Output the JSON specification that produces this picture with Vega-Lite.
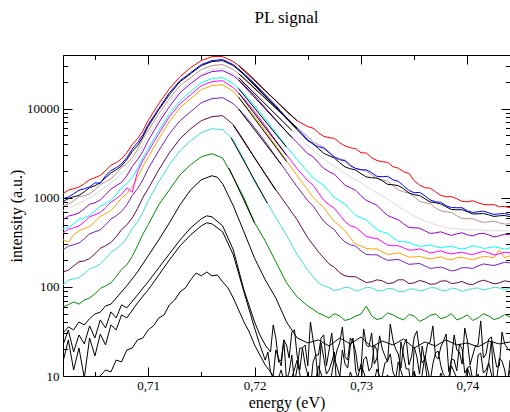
{
"$schema":"https://vega.github.io/schema/vega-lite/v6.json",
"width":447,"height":321,
"autosize":{"type":"none"},
"padding":{"left":63,"top":55,"right":0,"bottom":36},
"background":"white",
"title":{"text":"PL signal","font":"Liberation Serif","fontSize":17,"fontWeight":"normal","color":"black","offset":28,"anchor":"middle"},
"config":{"view":{"stroke":null},"axis":{"grid":false,"domainColor":"black","tickColor":"black","labelColor":"black","labelFont":"Liberation Serif","labelFontSize":13,"titleFont":"Liberation Serif","titleFontSize":16,"titleFontWeight":"normal","titleColor":"black","labelFlush":false,"labelOverlap":false,"labelBound":false,"domainWidth":1,"tickWidth":1}},
"datasets":{
"pl":[
{"c":"k4","e":0.702,"i":6.1},{"c":"k4","e":0.7025,"i":7.9},{"c":"k4","e":0.703,"i":5.6},{"c":"k4","e":0.7035,"i":9.0},{"c":"k4","e":0.704,"i":6.6},{"c":"k4","e":0.7045,"i":8.3},{"c":"k4","e":0.705,"i":7.3},{"c":"k4","e":0.7055,"i":10},{"c":"k4","e":0.706,"i":11.7},{"c":"k4","e":0.7065,"i":11.1},{"c":"k4","e":0.707,"i":15.1},{"c":"k4","e":0.7075,"i":14.4},{"c":"k4","e":0.708,"i":19.6},{"c":"k4","e":0.7085,"i":20.6},{"c":"k4","e":0.709,"i":25.4},{"c":"k4","e":0.7095,"i":26.7},{"c":"k4","e":0.71,"i":32.9},{"c":"k4","e":0.7105,"i":36.5},{"c":"k4","e":0.711,"i":44.8},{"c":"k4","e":0.7115,"i":48.5},{"c":"k4","e":0.712,"i":62.9},{"c":"k4","e":0.7125,"i":71.4},{"c":"k4","e":0.713,"i":87.9},{"c":"k4","e":0.7135,"i":97.5},{"c":"k4","e":0.714,"i":120},{"c":"k4","e":0.7145,"i":143},{"c":"k4","e":0.715,"i":133},{"c":"k4","e":0.7155,"i":147},{"c":"k4","e":0.716,"i":133},{"c":"k4","e":0.7165,"i":136},{"c":"k4","e":0.717,"i":114},{"c":"k4","e":0.7175,"i":97.5},{"c":"k4","e":0.718,"i":75},{"c":"k4","e":0.7185,"i":55.2},{"c":"k4","e":0.719,"i":40.4},{"c":"k4","e":0.7195,"i":31.2},{"c":"k4","e":0.72,"i":22.3},{"c":"k4","e":0.7205,"i":17.2},{"c":"k4","e":0.721,"i":13.3},{"c":"k4","e":0.7215,"i":11.1},
{"c":"k4","e":0.722,"i":7.9},{"c":"k4","e":0.7225,"i":11.7},{"c":"k4","e":0.723,"i":6.6},{"c":"k4","e":0.7235,"i":9.5},{"c":"k4","e":0.724,"i":15.1},{"c":"k4","e":0.7245,"i":7.3},{"c":"k4","e":0.725,"i":10.5},{"c":"k4","e":0.7255,"i":6.1},{"c":"k4","e":0.726,"i":13.0},{"c":"k4","e":0.7265,"i":8.6},{"c":"k4","e":0.727,"i":7.0},{"c":"k4","e":0.7275,"i":15.9},{"c":"k4","e":0.728,"i":10},{"c":"k4","e":0.7285,"i":5.6},{"c":"k4","e":0.729,"i":11.1},{"c":"k4","e":0.7295,"i":7.7},{"c":"k4","e":0.73,"i":13.6},{"c":"k4","e":0.7305,"i":9.0},{"c":"k4","e":0.731,"i":6.3},{"c":"k4","e":0.7315,"i":12.0},{"c":"k4","e":0.732,"i":8.1},{"c":"k4","e":0.7325,"i":10.3},{"c":"k4","e":0.733,"i":5.8},{"c":"k4","e":0.7335,"i":14.4},{"c":"k4","e":0.734,"i":9.2},{"c":"k4","e":0.7345,"i":7.1},{"c":"k4","e":0.735,"i":11.4},{"c":"k4","e":0.7355,"i":6.6},{"c":"k4","e":0.736,"i":16.8},{"c":"k4","e":0.7365,"i":8.8},{"c":"k4","e":0.737,"i":6.4},{"c":"k4","e":0.7375,"i":10.8},{"c":"k4","e":0.738,"i":7.5},{"c":"k4","e":0.7385,"i":13.0},{"c":"k4","e":0.739,"i":9.5},{"c":"k4","e":0.7395,"i":6.0},{"c":"k4","e":0.74,"i":12.3},{"c":"k4","e":0.7405,"i":8.3},{"c":"k4","e":0.741,"i":10.5},{"c":"k4","e":0.7415,"i":6.8},{"c":"k4","e":0.742,"i":14.0},{"c":"k4","e":0.7425,"i":7.9},{"c":"k4","e":0.743,"i":9.7},{"c":"k4","e":0.7435,"i":6.3},{"c":"k4","e":0.744,"i":11.7},
{"c":"k3","e":0.702,"i":14.4},{"c":"k3","e":0.7025,"i":25.4},{"c":"k3","e":0.703,"i":11.7},{"c":"k3","e":0.7035,"i":20.6},{"c":"k3","e":0.704,"i":9.5},{"c":"k3","e":0.7045,"i":26.7},{"c":"k3","e":0.705,"i":16.8},{"c":"k3","e":0.7055,"i":29.6},{"c":"k3","e":0.706,"i":22.3},{"c":"k3","e":0.7065,"i":37.4},{"c":"k3","e":0.707,"i":32.9},{"c":"k3","e":0.7075,"i":48.5},{"c":"k3","e":0.708,"i":44.8},{"c":"k3","e":0.709,"i":66.1},{"c":"k3","e":0.71,"i":92.5},{"c":"k3","e":0.711,"i":136},{"c":"k3","e":0.712,"i":201},{"c":"k3","e":0.713,"i":289},{"c":"k3","e":0.714,"i":384},{"c":"k3","e":0.715,"i":484},{"c":"k3","e":0.7155,"i":524},{"c":"k3","e":0.716,"i":510},{"c":"k3","e":0.717,"i":415},{"c":"k3","e":0.718,"i":229},{"c":"k3","e":0.719,"i":87.9},{"c":"k3","e":0.72,"i":34.6},{"c":"k3","e":0.7205,"i":22.3},
{"c":"k3","e":0.721,"i":15.1},{"c":"k3","e":0.7215,"i":11.1},{"c":"k3","e":0.722,"i":19.6},{"c":"k3","e":0.7225,"i":13.0},{"c":"k3","e":0.723,"i":9.0},{"c":"k3","e":0.7235,"i":17.2},{"c":"k3","e":0.724,"i":12.3},{"c":"k3","e":0.7245,"i":20.6},{"c":"k3","e":0.725,"i":10.3},{"c":"k3","e":0.7255,"i":14.4},{"c":"k3","e":0.726,"i":7.9},{"c":"k3","e":0.7265,"i":15.9},{"c":"k3","e":0.727,"i":11.7},{"c":"k3","e":0.7275,"i":18.6},{"c":"k3","e":0.728,"i":9.5},{"c":"k3","e":0.7285,"i":13.6},{"c":"k3","e":0.729,"i":21.7},{"c":"k3","e":0.7295,"i":11.4},{"c":"k3","e":0.73,"i":8.3},{"c":"k3","e":0.7305,"i":16.4},{"c":"k3","e":0.731,"i":12.6},{"c":"k3","e":0.7315,"i":19.6},{"c":"k3","e":0.732,"i":10},{"c":"k3","e":0.7325,"i":14.8},{"c":"k3","e":0.733,"i":11.1},{"c":"k3","e":0.7335,"i":7.0},{"c":"k3","e":0.734,"i":16.8},{"c":"k3","e":0.7345,"i":12.0},{"c":"k3","e":0.735,"i":21.2},{"c":"k3","e":0.7355,"i":10.5},{"c":"k3","e":0.736,"i":14.4},{"c":"k3","e":0.7365,"i":8.6},{"c":"k3","e":0.737,"i":18.1},{"c":"k3","e":0.7375,"i":13.0},{"c":"k3","e":0.738,"i":9.7},{"c":"k3","e":0.7385,"i":15.5},{"c":"k3","e":0.739,"i":11.4},{"c":"k3","e":0.7395,"i":20.1},{"c":"k3","e":0.74,"i":12.3},{"c":"k3","e":0.7405,"i":9.0},{"c":"k3","e":0.741,"i":17.2},{"c":"k3","e":0.7415,"i":10.8},{"c":"k3","e":0.742,"i":14.0},{"c":"k3","e":0.7425,"i":7.7},{"c":"k3","e":0.743,"i":15.9},{"c":"k3","e":0.7435,"i":11.7},{"c":"k3","e":0.744,"i":15.1},
{"c":"k2","e":0.702,"i":22.3},{"c":"k2","e":0.7025,"i":32.9},{"c":"k2","e":0.703,"i":18.6},{"c":"k2","e":0.7035,"i":28.9},{"c":"k2","e":0.704,"i":22.9},{"c":"k2","e":0.7045,"i":36.5},{"c":"k2","e":0.705,"i":26.7},{"c":"k2","e":0.7055,"i":42.6},{"c":"k2","e":0.706,"i":34.6},{"c":"k2","e":0.7065,"i":52.4},{"c":"k2","e":0.707,"i":44.8},{"c":"k2","e":0.7075,"i":62.9},{"c":"k2","e":0.708,"i":58.1},{"c":"k2","e":0.709,"i":81.3},{"c":"k2","e":0.71,"i":114},{"c":"k2","e":0.711,"i":164},{"c":"k2","e":0.712,"i":235},{"c":"k2","e":0.713,"i":337},{"c":"k2","e":0.714,"i":460},{"c":"k2","e":0.715,"i":580},{"c":"k2","e":0.7155,"i":627},{"c":"k2","e":0.716,"i":611},{"c":"k2","e":0.717,"i":484},{"c":"k2","e":0.718,"i":260},{"c":"k2","e":0.719,"i":92.5},{"c":"k2","e":0.72,"i":40.4},{"c":"k2","e":0.7205,"i":28.9},{"c":"k2","e":0.721,"i":22.3},
{"c":"k2","e":0.7215,"i":18.6},{"c":"k2","e":0.722,"i":26.7},{"c":"k2","e":0.7225,"i":15.1},{"c":"k2","e":0.723,"i":22.3},{"c":"k2","e":0.7235,"i":31.2},{"c":"k2","e":0.724,"i":16.8},{"c":"k2","e":0.7245,"i":20.6},{"c":"k2","e":0.725,"i":13.0},{"c":"k2","e":0.7255,"i":25.4},{"c":"k2","e":0.726,"i":17.2},{"c":"k2","e":0.7265,"i":28.9},{"c":"k2","e":0.727,"i":19.6},{"c":"k2","e":0.7275,"i":14.4},{"c":"k2","e":0.728,"i":23.5},{"c":"k2","e":0.7285,"i":16.4},{"c":"k2","e":0.729,"i":26.7},{"c":"k2","e":0.7295,"i":18.6},{"c":"k2","e":0.73,"i":12.3},{"c":"k2","e":0.7305,"i":22.3},{"c":"k2","e":0.731,"i":30.4},{"c":"k2","e":0.7315,"i":15.9},{"c":"k2","e":0.732,"i":20.1},{"c":"k2","e":0.7325,"i":14.4},{"c":"k2","e":0.733,"i":25.4},{"c":"k2","e":0.7335,"i":17.7},{"c":"k2","e":0.734,"i":21.7},{"c":"k2","e":0.7345,"i":13.3},{"c":"k2","e":0.735,"i":27.4},{"c":"k2","e":0.7355,"i":19.1},{"c":"k2","e":0.736,"i":15.5},{"c":"k2","e":0.7365,"i":24.1},{"c":"k2","e":0.737,"i":16.8},{"c":"k2","e":0.7375,"i":21.2},{"c":"k2","e":0.738,"i":29.6},{"c":"k2","e":0.7385,"i":15.1},{"c":"k2","e":0.739,"i":19.6},{"c":"k2","e":0.7395,"i":13.6},{"c":"k2","e":0.74,"i":24.7},{"c":"k2","e":0.7405,"i":17.2},{"c":"k2","e":0.741,"i":22.3},{"c":"k2","e":0.7415,"i":15.9},{"c":"k2","e":0.742,"i":26.0},{"c":"k2","e":0.7425,"i":18.1},{"c":"k2","e":0.743,"i":13.0},{"c":"k2","e":0.7435,"i":22.9},{"c":"k2","e":0.744,"i":19.1},
{"c":"k1","e":0.702,"i":30.4},{"c":"k1","e":0.7025,"i":35.5},{"c":"k1","e":0.703,"i":32.9},{"c":"k1","e":0.7035,"i":40.4},{"c":"k1","e":0.704,"i":37.4},{"c":"k1","e":0.7045,"i":44},{"c":"k1","e":0.705,"i":49.7},{"c":"k1","e":0.7055,"i":52},{"c":"k1","e":0.706,"i":61.2},{"c":"k1","e":0.7065,"i":64},{"c":"k1","e":0.707,"i":75},{"c":"k1","e":0.708,"i":103},{"c":"k1","e":0.709,"i":147},{"c":"k1","e":0.71,"i":223},{"c":"k1","e":0.711,"i":337},{"c":"k1","e":0.712,"i":524},{"c":"k1","e":0.713,"i":835},{"c":"k1","e":0.714,"i":1230},{"c":"k1","e":0.715,"i":1594},{"c":"k1","e":0.716,"i":1767},{"c":"k1","e":0.7165,"i":1700},{"c":"k1","e":0.717,"i":1436},{"c":"k1","e":0.718,"i":813},{"c":"k1","e":0.719,"i":415},{"c":"k1","e":0.72,"i":210},{"c":"k1","e":0.721,"i":120},{"c":"k1","e":0.722,"i":75},{"c":"k1","e":0.723,"i":40.4},{"c":"k1","e":0.724,"i":26.7},{"c":"k1","e":0.725,"i":23.5},{"c":"k1","e":0.726,"i":25.4},{"c":"k1","e":0.727,"i":21.7},{"c":"k1","e":0.728,"i":26.7},{"c":"k1","e":0.729,"i":22.9},{"c":"k1","e":0.73,"i":27.4},{"c":"k1","e":0.731,"i":21.2},{"c":"k1","e":0.732,"i":24.7},{"c":"k1","e":0.733,"i":22.3},{"c":"k1","e":0.734,"i":26},{"c":"k1","e":0.735,"i":20.6},{"c":"k1","e":0.736,"i":24.1},{"c":"k1","e":0.737,"i":21.7},{"c":"k1","e":0.738,"i":25.4},{"c":"k1","e":0.739,"i":22.3},{"c":"k1","e":0.74,"i":23.5},{"c":"k1","e":0.741,"i":21.2},{"c":"k1","e":0.742,"i":24.7},{"c":"k1","e":0.743,"i":22.9},{"c":"k1","e":0.744,"i":24.1},
{"c":"green","e":0.702,"i":59.6},{"c":"green","e":0.7025,"i":63},{"c":"green","e":0.703,"i":67.8},{"c":"green","e":0.7035,"i":64},{"c":"green","e":0.704,"i":71.4},{"c":"green","e":0.705,"i":83.5},{"c":"green","e":0.706,"i":102.6},{"c":"green","e":0.707,"i":130},{"c":"green","e":0.708,"i":177},{"c":"green","e":0.709,"i":289},{"c":"green","e":0.71,"i":497},{"c":"green","e":0.711,"i":835},{"c":"green","e":0.712,"i":1230},{"c":"green","e":0.713,"i":1813},{"c":"green","e":0.714,"i":2348},{"c":"green","e":0.715,"i":2889},{"c":"green","e":0.716,"i":3122},{"c":"green","e":0.717,"i":2800},{"c":"green","e":0.718,"i":1700},{"c":"green","e":0.719,"i":1000},{"c":"green","e":0.72,"i":524},{"c":"green","e":0.721,"i":329},{"c":"green","e":0.722,"i":191},{"c":"green","e":0.723,"i":111},{"c":"green","e":0.724,"i":77.2},{"c":"green","e":0.725,"i":61.2},{"c":"green","e":0.726,"i":51},{"c":"green","e":0.727,"i":44.8},{"c":"green","e":0.728,"i":47.2},{"c":"green","e":0.729,"i":43.7},{"c":"green","e":0.73,"i":49.7},{"c":"green","e":0.7305,"i":61},{"c":"green","e":0.731,"i":47.2},{"c":"green","e":0.732,"i":44.8},{"c":"green","e":0.733,"i":48.5},{"c":"green","e":0.734,"i":42.6},{"c":"green","e":0.735,"i":47.2},{"c":"green","e":0.736,"i":43.7},{"c":"green","e":0.737,"i":49.7},{"c":"green","e":0.738,"i":46},{"c":"green","e":0.739,"i":42.6},{"c":"green","e":0.74,"i":48.5},{"c":"green","e":0.741,"i":44.8},{"c":"green","e":0.742,"i":47.2},{"c":"green","e":0.743,"i":44.8},{"c":"green","e":0.744,"i":46},
{"c":"turq","e":0.702,"i":105},{"c":"turq","e":0.703,"i":123},{"c":"turq","e":0.704,"i":140},{"c":"turq","e":0.705,"i":168},{"c":"turq","e":0.706,"i":206},{"c":"turq","e":0.707,"i":267},{"c":"turq","e":0.708,"i":355},{"c":"turq","e":0.709,"i":538},{"c":"turq","e":0.71,"i":926},{"c":"turq","e":0.711,"i":1513},{"c":"turq","e":0.712,"i":2348},{"c":"turq","e":0.713,"i":3375},{"c":"turq","e":0.714,"i":4370},{"c":"turq","e":0.715,"i":5376},{"c":"turq","e":0.716,"i":5963},{"c":"turq","e":0.717,"i":5800},{"c":"turq","e":0.718,"i":4500},{"c":"turq","e":0.719,"i":2700},{"c":"turq","e":0.72,"i":1500},{"c":"turq","e":0.721,"i":960},{"c":"turq","e":0.722,"i":600},{"c":"turq","e":0.723,"i":380},{"c":"turq","e":0.724,"i":230},{"c":"turq","e":0.725,"i":155},{"c":"turq","e":0.726,"i":110},{"c":"turq","e":0.727,"i":98},{"c":"turq","e":0.728,"i":94},{"c":"turq","e":0.729,"i":97.5},{"c":"turq","e":0.73,"i":92.5},{"c":"turq","e":0.731,"i":97.5},{"c":"turq","e":0.732,"i":90},{"c":"turq","e":0.733,"i":95},{"c":"turq","e":0.734,"i":88},{"c":"turq","e":0.735,"i":95},{"c":"turq","e":0.736,"i":92.5},{"c":"turq","e":0.737,"i":97.5},{"c":"turq","e":0.738,"i":90},{"c":"turq","e":0.739,"i":95},{"c":"turq","e":0.74,"i":92.5},{"c":"turq","e":0.741,"i":97.5},{"c":"turq","e":0.742,"i":95},{"c":"turq","e":0.743,"i":97.5},{"c":"turq","e":0.744,"i":97.5},
{"c":"maroon","e":0.702,"i":147},{"c":"maroon","e":0.703,"i":172},{"c":"maroon","e":0.704,"i":196},{"c":"maroon","e":0.705,"i":235},{"c":"maroon","e":0.706,"i":289},{"c":"maroon","e":0.707,"i":365},{"c":"maroon","e":0.708,"i":497},{"c":"maroon","e":0.709,"i":753},{"c":"maroon","e":0.71,"i":1262},{"c":"maroon","e":0.711,"i":2063},{"c":"maroon","e":0.712,"i":3204},{"c":"maroon","e":0.713,"i":4602},{"c":"maroon","e":0.714,"i":5963},{"c":"maroon","e":0.715,"i":7335},{"c":"maroon","e":0.716,"i":8130},{"c":"maroon","e":0.717,"i":8350},{"c":"maroon","e":0.718,"i":6613},{"c":"maroon","e":0.719,"i":4370},{"c":"maroon","e":0.72,"i":2815},{"c":"maroon","e":0.721,"i":1861},{"c":"maroon","e":0.722,"i":1230},{"c":"maroon","e":0.723,"i":835},{"c":"maroon","e":0.724,"i":566},{"c":"maroon","e":0.725,"i":355},{"c":"maroon","e":0.726,"i":247},{"c":"maroon","e":0.727,"i":181},{"c":"maroon","e":0.728,"i":144},{"c":"maroon","e":0.729,"i":130},{"c":"maroon","e":0.73,"i":120},{"c":"maroon","e":0.731,"i":114},{"c":"maroon","e":0.732,"i":117},{"c":"maroon","e":0.733,"i":111},{"c":"maroon","e":0.734,"i":120},{"c":"maroon","e":0.735,"i":111},{"c":"maroon","e":0.736,"i":114},{"c":"maroon","e":0.737,"i":108},{"c":"maroon","e":0.738,"i":117},{"c":"maroon","e":0.739,"i":111},{"c":"maroon","e":0.74,"i":108},{"c":"maroon","e":0.741,"i":114},{"c":"maroon","e":0.742,"i":114},{"c":"maroon","e":0.743,"i":111},{"c":"maroon","e":0.744,"i":114},
{"c":"indigo","e":0.702,"i":260},{"c":"indigo","e":0.703,"i":297},{"c":"indigo","e":0.704,"i":346},{"c":"indigo","e":0.705,"i":415},{"c":"indigo","e":0.706,"i":497},{"c":"indigo","e":0.707,"i":628},{"c":"indigo","e":0.708,"i":835},{"c":"indigo","e":0.709,"i":1262},{"c":"indigo","e":0.71,"i":2117},{"c":"indigo","e":0.711,"i":3375},{"c":"indigo","e":0.712,"i":5239},{"c":"indigo","e":0.713,"i":7335},{"c":"indigo","e":0.714,"i":9260},{"c":"indigo","e":0.715,"i":11680},{"c":"indigo","e":0.716,"i":12950},{"c":"indigo","e":0.717,"i":13290},{"c":"indigo","e":0.718,"i":11380},{"c":"indigo","e":0.719,"i":8560},{"c":"indigo","e":0.72,"i":6119},{"c":"indigo","e":0.721,"i":4259},{"c":"indigo","e":0.722,"i":2889},{"c":"indigo","e":0.723,"i":1959},{"c":"indigo","e":0.724,"i":1329},{"c":"indigo","e":0.725,"i":926},{"c":"indigo","e":0.726,"i":661},{"c":"indigo","e":0.727,"i":484},{"c":"indigo","e":0.728,"i":365},{"c":"indigo","e":0.729,"i":297},{"c":"indigo","e":0.73,"i":254},{"c":"indigo","e":0.731,"i":229},{"c":"indigo","e":0.732,"i":212},{"c":"indigo","e":0.733,"i":201},{"c":"indigo","e":0.734,"i":191},{"c":"indigo","e":0.735,"i":181},{"c":"indigo","e":0.736,"i":172},{"c":"indigo","e":0.737,"i":164},{"c":"indigo","e":0.738,"i":159},{"c":"indigo","e":0.739,"i":155},{"c":"indigo","e":0.74,"i":164},{"c":"indigo","e":0.741,"i":172},{"c":"indigo","e":0.742,"i":177},{"c":"indigo","e":0.743,"i":181},{"c":"indigo","e":0.744,"i":186},
{"c":"orange","e":0.702,"i":337},{"c":"orange","e":0.703,"i":384},{"c":"orange","e":0.704,"i":449},{"c":"orange","e":0.705,"i":538},{"c":"orange","e":0.706,"i":661},{"c":"orange","e":0.707,"i":835},{"c":"orange","e":0.708,"i":1109},{"c":"orange","e":0.709,"i":1678},{"c":"orange","e":0.71,"i":2815},{"c":"orange","e":0.711,"i":4602},{"c":"orange","e":0.712,"i":7147},{"c":"orange","e":0.713,"i":10260},{"c":"orange","e":0.714,"i":12950},{"c":"orange","e":0.715,"i":16350},{"c":"orange","e":0.716,"i":18130},{"c":"orange","e":0.717,"i":18610},{"c":"orange","e":0.718,"i":15530},{"c":"orange","e":0.719,"i":11380},{"c":"orange","e":0.72,"i":8134},{"c":"orange","e":0.721,"i":5662},{"c":"orange","e":0.722,"i":3840},{"c":"orange","e":0.723,"i":2605},{"c":"orange","e":0.724,"i":1767},{"c":"orange","e":0.725,"i":1230},{"c":"orange","e":0.726,"i":879},{"c":"orange","e":0.727,"i":644},{"c":"orange","e":0.728,"i":484},{"c":"orange","e":0.729,"i":355},{"c":"orange","e":0.7295,"i":300},{"c":"orange","e":0.73,"i":289},{"c":"orange","e":0.731,"i":267},{"c":"orange","e":0.732,"i":247},{"c":"orange","e":0.733,"i":235},{"c":"orange","e":0.734,"i":229},{"c":"orange","e":0.735,"i":217},{"c":"orange","e":0.736,"i":212},{"c":"orange","e":0.737,"i":212},{"c":"orange","e":0.738,"i":206},{"c":"orange","e":0.739,"i":212},{"c":"orange","e":0.74,"i":206},{"c":"orange","e":0.741,"i":212},{"c":"orange","e":0.742,"i":217},{"c":"orange","e":0.7425,"i":212},{"c":"orange","e":0.743,"i":260},{"c":"orange","e":0.7435,"i":212},{"c":"orange","e":0.744,"i":223},
{"c":"magenta","e":0.702,"i":404},{"c":"magenta","e":0.703,"i":460},{"c":"magenta","e":0.704,"i":538},{"c":"magenta","e":0.705,"i":644},{"c":"magenta","e":0.706,"i":773},{"c":"magenta","e":0.707,"i":975},{"c":"magenta","e":0.708,"i":1295},{"c":"magenta","e":0.7085,"i":1150},{"c":"magenta","e":0.709,"i":1959},{"c":"magenta","e":0.71,"i":3288},{"c":"magenta","e":0.711,"i":5239},{"c":"magenta","e":0.712,"i":8134},{"c":"magenta","e":0.713,"i":11380},{"c":"magenta","e":0.714,"i":14360},{"c":"magenta","e":0.715,"i":18130},{"c":"magenta","e":0.716,"i":20100},{"c":"magenta","e":0.717,"i":20630},{"c":"magenta","e":0.718,"i":17220},{"c":"magenta","e":0.719,"i":12950},{"c":"magenta","e":0.72,"i":9260},{"c":"magenta","e":0.721,"i":6444},{"c":"magenta","e":0.722,"i":4370},{"c":"magenta","e":0.723,"i":3042},{"c":"magenta","e":0.724,"i":2117},{"c":"magenta","e":0.725,"i":1553},{"c":"magenta","e":0.726,"i":1138},{"c":"magenta","e":0.727,"i":835},{"c":"magenta","e":0.728,"i":644},{"c":"magenta","e":0.729,"i":484},{"c":"magenta","e":0.73,"i":415},{"c":"magenta","e":0.731,"i":355},{"c":"magenta","e":0.732,"i":320},{"c":"magenta","e":0.733,"i":289},{"c":"magenta","e":0.734,"i":274},{"c":"magenta","e":0.735,"i":260},{"c":"magenta","e":0.736,"i":254},{"c":"magenta","e":0.737,"i":247},{"c":"magenta","e":0.738,"i":241},{"c":"magenta","e":0.739,"i":241},{"c":"magenta","e":0.74,"i":235},{"c":"magenta","e":0.741,"i":241},{"c":"magenta","e":0.742,"i":241},{"c":"magenta","e":0.743,"i":235},{"c":"magenta","e":0.744,"i":241},
{"c":"cyan","e":0.702,"i":449},{"c":"cyan","e":0.703,"i":510},{"c":"cyan","e":0.704,"i":596},{"c":"cyan","e":0.705,"i":715},{"c":"cyan","e":0.706,"i":857},{"c":"cyan","e":0.707,"i":1081},{"c":"cyan","e":0.708,"i":1436},{"c":"cyan","e":0.709,"i":2117},{"c":"cyan","e":0.71,"i":3554},{"c":"cyan","e":0.711,"i":5662},{"c":"cyan","e":0.712,"i":8790},{"c":"cyan","e":0.713,"i":12300},{"c":"cyan","e":0.714,"i":15530},{"c":"cyan","e":0.715,"i":19590},{"c":"cyan","e":0.716,"i":21730},{"c":"cyan","e":0.717,"i":22300},{"c":"cyan","e":0.718,"i":19090},{"c":"cyan","e":0.719,"i":14740},{"c":"cyan","e":0.72,"i":10810},{"c":"cyan","e":0.721,"i":7725},{"c":"cyan","e":0.722,"i":5376},{"c":"cyan","e":0.723,"i":3742},{"c":"cyan","e":0.724,"i":2673},{"c":"cyan","e":0.725,"i":1959},{"c":"cyan","e":0.726,"i":1513},{"c":"cyan","e":0.727,"i":1168},{"c":"cyan","e":0.728,"i":926},{"c":"cyan","e":0.729,"i":733},{"c":"cyan","e":0.73,"i":596},{"c":"cyan","e":0.731,"i":497},{"c":"cyan","e":0.732,"i":415},{"c":"cyan","e":0.733,"i":355},{"c":"cyan","e":0.734,"i":320},{"c":"cyan","e":0.735,"i":297},{"c":"cyan","e":0.736,"i":289},{"c":"cyan","e":0.737,"i":282},{"c":"cyan","e":0.738,"i":282},{"c":"cyan","e":0.739,"i":274},{"c":"cyan","e":0.74,"i":274},{"c":"cyan","e":0.741,"i":282},{"c":"cyan","e":0.742,"i":274},{"c":"cyan","e":0.743,"i":274},{"c":"cyan","e":0.744,"i":274},
{"c":"violet","e":0.702,"i":566},{"c":"violet","e":0.703,"i":644},{"c":"violet","e":0.704,"i":753},{"c":"violet","e":0.705,"i":879},{"c":"violet","e":0.706,"i":1081},{"c":"violet","e":0.707,"i":1364},{"c":"violet","e":0.708,"i":1767},{"c":"violet","e":0.709,"i":2673},{"c":"violet","e":0.71,"i":4370},{"c":"violet","e":0.711,"i":6964},{"c":"violet","e":0.712,"i":10530},{"c":"violet","e":0.713,"i":15130},{"c":"violet","e":0.714,"i":19090},{"c":"violet","e":0.715,"i":23480},{"c":"violet","e":0.716,"i":26050},{"c":"violet","e":0.717,"i":26730},{"c":"violet","e":0.718,"i":23480},{"c":"violet","e":0.719,"i":18610},{"c":"violet","e":0.72,"i":14000},{"c":"violet","e":0.721,"i":10260},{"c":"violet","e":0.722,"i":7527},{"c":"violet","e":0.723,"i":5517},{"c":"violet","e":0.724,"i":4150},{"c":"violet","e":0.725,"i":3122},{"c":"violet","e":0.726,"i":2473},{"c":"violet","e":0.727,"i":1959},{"c":"violet","e":0.728,"i":1594},{"c":"violet","e":0.729,"i":1295},{"c":"violet","e":0.73,"i":1053},{"c":"violet","e":0.731,"i":879},{"c":"violet","e":0.732,"i":715},{"c":"violet","e":0.733,"i":596},{"c":"violet","e":0.734,"i":510},{"c":"violet","e":0.735,"i":460},{"c":"violet","e":0.736,"i":426},{"c":"violet","e":0.737,"i":404},{"c":"violet","e":0.738,"i":394},{"c":"violet","e":0.739,"i":394},{"c":"violet","e":0.74,"i":384},{"c":"violet","e":0.741,"i":394},{"c":"violet","e":0.742,"i":384},{"c":"violet","e":0.743,"i":374},{"c":"violet","e":0.744,"i":384},
{"c":"gray","e":0.702,"i":715},{"c":"gray","e":0.703,"i":813},{"c":"gray","e":0.704,"i":926},{"c":"gray","e":0.705,"i":1081},{"c":"gray","e":0.706,"i":1329},{"c":"gray","e":0.707,"i":1635},{"c":"gray","e":0.708,"i":2117},{"c":"gray","e":0.709,"i":3122},{"c":"gray","e":0.71,"i":4974},{"c":"gray","e":0.711,"i":7725},{"c":"gray","e":0.712,"i":11680},{"c":"gray","e":0.713,"i":16350},{"c":"gray","e":0.714,"i":20100},{"c":"gray","e":0.715,"i":24730},{"c":"gray","e":0.716,"i":27430},{"c":"gray","e":0.717,"i":28150},{"c":"gray","e":0.718,"i":24730},{"c":"gray","e":0.719,"i":20100},{"c":"gray","e":0.72,"i":15530},{"c":"gray","e":0.721,"i":11680},{"c":"gray","e":0.722,"i":8790},{"c":"gray","e":0.723,"i":6613},{"c":"gray","e":0.724,"i":4974},{"c":"gray","e":0.725,"i":3840},{"c":"gray","e":0.726,"i":3042},{"c":"gray","e":0.727,"i":2473},{"c":"gray","e":0.728,"i":2063},{"c":"gray","e":0.729,"i":1722},{"c":"gray","e":0.73,"i":1474},{"c":"gray","e":0.731,"i":1230},{"c":"gray","e":0.732,"i":1053},{"c":"gray","e":0.733,"i":879},{"c":"gray","e":0.734,"i":733},{"c":"gray","e":0.735,"i":628},{"c":"gray","e":0.736,"i":552},{"c":"gray","e":0.737,"i":497},{"c":"gray","e":0.738,"i":460},{"c":"gray","e":0.739,"i":449},{"c":"gray","e":0.74,"i":437},{"c":"gray","e":0.741,"i":437},{"c":"gray","e":0.742,"i":426},{"c":"gray","e":0.743,"i":426},{"c":"gray","e":0.744,"i":426},
{"c":"tan","e":0.702,"i":813},{"c":"tan","e":0.703,"i":926},{"c":"tan","e":0.704,"i":1053},{"c":"tan","e":0.705,"i":1230},{"c":"tan","e":0.706,"i":1513},{"c":"tan","e":0.707,"i":1861},{"c":"tan","e":0.708,"i":2410},{"c":"tan","e":0.709,"i":3463},{"c":"tan","e":0.71,"i":5662},{"c":"tan","e":0.711,"i":8790},{"c":"tan","e":0.712,"i":12950},{"c":"tan","e":0.713,"i":18130},{"c":"tan","e":0.714,"i":22300},{"c":"tan","e":0.715,"i":27430},{"c":"tan","e":0.716,"i":30420},{"c":"tan","e":0.717,"i":31220},{"c":"tan","e":0.718,"i":27430},{"c":"tan","e":0.719,"i":22300},{"c":"tan","e":0.72,"i":17220},{"c":"tan","e":0.721,"i":13290},{"c":"tan","e":0.722,"i":10260},{"c":"tan","e":0.723,"i":7926},{"c":"tan","e":0.724,"i":6119},{"c":"tan","e":0.725,"i":4847},{"c":"tan","e":0.726,"i":3940},{"c":"tan","e":0.727,"i":3288},{"c":"tan","e":0.728,"i":2743},{"c":"tan","e":0.729,"i":2348},{"c":"tan","e":0.73,"i":2063},{"c":"tan","e":0.731,"i":1813},{"c":"tan","e":0.732,"i":1594},{"c":"tan","e":0.733,"i":1364},{"c":"tan","e":0.734,"i":1168},{"c":"tan","e":0.735,"i":1026},{"c":"tan","e":0.736,"i":879},{"c":"tan","e":0.737,"i":773},{"c":"tan","e":0.738,"i":696},{"c":"tan","e":0.739,"i":628},{"c":"tan","e":0.74,"i":581},{"c":"tan","e":0.741,"i":552},{"c":"tan","e":0.742,"i":538},{"c":"tan","e":0.743,"i":524},{"c":"tan","e":0.744,"i":511},
{"c":"k0","e":0.702,"i":902},{"c":"k0","e":0.703,"i":1026},{"c":"k0","e":0.704,"i":1168},{"c":"k0","e":0.705,"i":1364},{"c":"k0","e":0.706,"i":1678},{"c":"k0","e":0.707,"i":2063},{"c":"k0","e":0.708,"i":2673},{"c":"k0","e":0.709,"i":3840},{"c":"k0","e":0.71,"i":6280},{"c":"k0","e":0.711,"i":9750},{"c":"k0","e":0.712,"i":14360},{"c":"k0","e":0.713,"i":20100},{"c":"k0","e":0.714,"i":24730},{"c":"k0","e":0.715,"i":30420},{"c":"k0","e":0.716,"i":33750},{"c":"k0","e":0.717,"i":34630},{"c":"k0","e":0.718,"i":30420},{"c":"k0","e":0.719,"i":24100},{"c":"k0","e":0.72,"i":18610},{"c":"k0","e":0.721,"i":14000},{"c":"k0","e":0.722,"i":10530},{"c":"k0","e":0.723,"i":7725},{"c":"k0","e":0.724,"i":5810},{"c":"k0","e":0.725,"i":4370},{"c":"k0","e":0.726,"i":3554},{"c":"k0","e":0.727,"i":2965},{"c":"k0","e":0.728,"i":2473},{"c":"k0","e":0.729,"i":2117},{"c":"k0","e":0.73,"i":1861},{"c":"k0","e":0.731,"i":1678},{"c":"k0","e":0.732,"i":1553},{"c":"k0","e":0.733,"i":1400},{"c":"k0","e":0.734,"i":1262},{"c":"k0","e":0.735,"i":1081},{"c":"k0","e":0.736,"i":975},{"c":"k0","e":0.737,"i":879},{"c":"k0","e":0.738,"i":793},{"c":"k0","e":0.739,"i":733},{"c":"k0","e":0.74,"i":696},{"c":"k0","e":0.741,"i":661},{"c":"k0","e":0.742,"i":644},{"c":"k0","e":0.743,"i":628},{"c":"k0","e":0.744,"i":613},
{"c":"blue","e":0.702,"i":975},{"c":"blue","e":0.703,"i":1109},{"c":"blue","e":0.704,"i":1262},{"c":"blue","e":0.705,"i":1474},{"c":"blue","e":0.706,"i":1767},{"c":"blue","e":0.707,"i":2173},{"c":"blue","e":0.708,"i":2815},{"c":"blue","e":0.709,"i":4150},{"c":"blue","e":0.71,"i":6613},{"c":"blue","e":0.711,"i":10000},{"c":"blue","e":0.712,"i":15130},{"c":"blue","e":0.713,"i":20630},{"c":"blue","e":0.714,"i":25380},{"c":"blue","e":0.715,"i":31220},{"c":"blue","e":0.716,"i":34630},{"c":"blue","e":0.717,"i":35540},{"c":"blue","e":0.718,"i":31220},{"c":"blue","e":0.719,"i":24730},{"c":"blue","e":0.72,"i":19090},{"c":"blue","e":0.721,"i":14360},{"c":"blue","e":0.722,"i":10810},{"c":"blue","e":0.723,"i":7926},{"c":"blue","e":0.724,"i":5963},{"c":"blue","e":0.725,"i":4485},{"c":"blue","e":0.726,"i":3742},{"c":"blue","e":0.727,"i":3204},{"c":"blue","e":0.728,"i":2673},{"c":"blue","e":0.729,"i":2288},{"c":"blue","e":0.73,"i":2063},{"c":"blue","e":0.731,"i":1909},{"c":"blue","e":0.732,"i":1722},{"c":"blue","e":0.733,"i":1594},{"c":"blue","e":0.734,"i":1364},{"c":"blue","e":0.735,"i":1138},{"c":"blue","e":0.736,"i":1053},{"c":"blue","e":0.737,"i":902},{"c":"blue","e":0.738,"i":813},{"c":"blue","e":0.739,"i":773},{"c":"blue","e":0.74,"i":715},{"c":"blue","e":0.741,"i":696},{"c":"blue","e":0.742,"i":679},{"c":"blue","e":0.743,"i":661},{"c":"blue","e":0.744,"i":644},
{"c":"red","e":0.702,"i":1109},{"c":"red","e":0.703,"i":1262},{"c":"red","e":0.704,"i":1436},{"c":"red","e":0.705,"i":1678},{"c":"red","e":0.706,"i":2010},{"c":"red","e":0.707,"i":2473},{"c":"red","e":0.708,"i":3204},{"c":"red","e":0.709,"i":4602},{"c":"red","e":0.71,"i":7335},{"c":"red","e":0.711,"i":11380},{"c":"red","e":0.712,"i":16780},{"c":"red","e":0.713,"i":22880},{"c":"red","e":0.714,"i":28890},{"c":"red","e":0.715,"i":34630},{"c":"red","e":0.716,"i":38400},{"c":"red","e":0.717,"i":38400},{"c":"red","e":0.718,"i":33750},{"c":"red","e":0.719,"i":27430},{"c":"red","e":0.72,"i":21170},{"c":"red","e":0.721,"i":15940},{"c":"red","e":0.722,"i":12300},{"c":"red","e":0.723,"i":9260},{"c":"red","e":0.724,"i":7335},{"c":"red","e":0.725,"i":6280},{"c":"red","e":0.726,"i":5376},{"c":"red","e":0.727,"i":4723},{"c":"red","e":0.728,"i":4150},{"c":"red","e":0.729,"i":3646},{"c":"red","e":0.73,"i":3204},{"c":"red","e":0.731,"i":2815},{"c":"red","e":0.732,"i":2538},{"c":"red","e":0.733,"i":2230},{"c":"red","e":0.734,"i":1959},{"c":"red","e":0.735,"i":1553},{"c":"red","e":0.736,"i":1295},{"c":"red","e":0.737,"i":1168},{"c":"red","e":0.738,"i":1026},{"c":"red","e":0.739,"i":975},{"c":"red","e":0.74,"i":902},{"c":"red","e":0.741,"i":879},{"c":"red","e":0.742,"i":835},{"c":"red","e":0.743,"i":793},{"c":"red","e":0.744,"i":773},
{"c":"red","e":0.7255,"i":6040},{"c":"red","e":0.7265,"i":4890},{"c":"red","e":0.7275,"i":4650},{"c":"red","e":0.7285,"i":3810},{"c":"red","e":0.7295,"i":3560},{"c":"red","e":0.7305,"i":3180},{"c":"red","e":0.7315,"i":2620},{"c":"red","e":0.7325,"i":2500},{"c":"red","e":0.7335,"i":2150},{"c":"red","e":0.7345,"i":1880},{"c":"red","e":0.7355,"i":1390},{"c":"red","e":0.7365,"i":1280},{"c":"red","e":0.7375,"i":1060},{"c":"red","e":0.7385,"i":1030},{"c":"red","e":0.7395,"i":910},{"c":"red","e":0.7405,"i":925},{"c":"red","e":0.7415,"i":840},{"c":"red","e":0.7425,"i":838},{"c":"red","e":0.7435,"i":800},
{"c":"blue","e":0.7255,"i":3980},{"c":"blue","e":0.7265,"i":3600},{"c":"blue","e":0.7275,"i":2840},{"c":"blue","e":0.7285,"i":2600},{"c":"blue","e":0.7295,"i":2130},{"c":"blue","e":0.7305,"i":2060},{"c":"blue","e":0.7315,"i":1740},{"c":"blue","e":0.7325,"i":1740},{"c":"blue","e":0.7335,"i":1530},{"c":"blue","e":0.7345,"i":1210},{"c":"blue","e":0.7355,"i":1150},{"c":"blue","e":0.7365,"i":945},{"c":"blue","e":0.7375,"i":890},{"c":"blue","e":0.7385,"i":777},{"c":"blue","e":0.7395,"i":773},{"c":"blue","e":0.7405,"i":684},{"c":"blue","e":0.7415,"i":708},{"c":"blue","e":0.7425,"i":650},{"c":"blue","e":0.7435,"i":665},
{"c":"k0","e":0.7255,"i":4060},{"c":"k0","e":0.7265,"i":3150},{"c":"k0","e":0.7275,"i":2790},{"c":"k0","e":0.7285,"i":2220},{"c":"k0","e":0.7295,"i":2045},{"c":"k0","e":0.7305,"i":1714},{"c":"k0","e":0.7315,"i":1662},{"c":"k0","e":0.7325,"i":1415},{"c":"k0","e":0.7335,"i":1369},{"c":"k0","e":0.7345,"i":1133},{"c":"k0","e":0.7355,"i":1058},{"c":"k0","e":0.7365,"i":898},{"c":"k0","e":0.7375,"i":852},{"c":"k0","e":0.7385,"i":739},{"c":"k0","e":0.7395,"i":735},{"c":"k0","e":0.7405,"i":658},{"c":"k0","e":0.7415,"i":665},{"c":"k0","e":0.7425,"i":617},{"c":"k0","e":0.7435,"i":632},
{"c":"tan","e":0.7255,"i":4240},{"c":"tan","e":0.7265,"i":3710},{"c":"tan","e":0.7275,"i":2910},{"c":"tan","e":0.7285,"i":2640},{"c":"tan","e":0.7295,"i":2135},{"c":"tan","e":0.7305,"i":1990},{"c":"tan","e":0.7315,"i":1650},{"c":"tan","e":0.7325,"i":1534},{"c":"tan","e":0.7335,"i":1224},{"c":"tan","e":0.7345,"i":1128},{"c":"tan","e":0.7355,"i":912},{"c":"tan","e":0.7365,"i":857},{"c":"tan","e":0.7375,"i":712},{"c":"tan","e":0.7385,"i":681},{"c":"tan","e":0.7395,"i":586},{"c":"tan","e":0.7405,"i":583},{"c":"tan","e":0.7415,"i":529},{"c":"tan","e":0.7425,"i":547},{"c":"tan","e":0.7435,"i":507},
{"c":"violet","e":0.7255,"i":2890},{"c":"violet","e":0.7265,"i":2135},{"c":"violet","e":0.7275,"i":1838},{"c":"violet","e":0.7285,"i":1380},{"c":"violet","e":0.7295,"i":1215},{"c":"violet","e":0.7305,"i":933},{"c":"violet","e":0.7315,"i":825},{"c":"violet","e":0.7325,"i":633},{"c":"violet","e":0.7335,"i":568},{"c":"violet","e":0.7345,"i":465},{"c":"violet","e":0.7355,"i":456},{"c":"violet","e":0.7365,"i":398},{"c":"violet","e":0.7375,"i":415},{"c":"violet","e":0.7385,"i":378},{"c":"violet","e":0.7395,"i":405},{"c":"violet","e":0.7405,"i":373},{"c":"violet","e":0.7415,"i":400},{"c":"violet","e":0.7425,"i":364},{"c":"violet","e":0.7435,"i":390},
{"c":"cyan","e":0.7255,"i":1670},{"c":"cyan","e":0.7265,"i":1382},{"c":"cyan","e":0.7275,"i":1009},{"c":"cyan","e":0.7285,"i":849},{"c":"cyan","e":0.7295,"i":635},{"c":"cyan","e":0.7305,"i":566},{"c":"cyan","e":0.7315,"i":440},{"c":"cyan","e":0.7325,"i":399},{"c":"cyan","e":0.7335,"i":324},{"c":"cyan","e":0.7345,"i":317},{"c":"cyan","e":0.7355,"i":284},{"c":"cyan","e":0.7365,"i":296},{"c":"cyan","e":0.7375,"i":274},{"c":"cyan","e":0.7385,"i":286},{"c":"cyan","e":0.7395,"i":266},{"c":"cyan","e":0.7405,"i":289},{"c":"cyan","e":0.7415,"i":270},{"c":"cyan","e":0.7425,"i":282},{"c":"cyan","e":0.7435,"i":266},
{"c":"magenta","e":0.7255,"i":1382},{"c":"magenta","e":0.7265,"i":936},{"c":"magenta","e":0.7275,"i":762},{"c":"magenta","e":0.7285,"i":541},{"c":"magenta","e":0.7295,"i":466},{"c":"magenta","e":0.7305,"i":369},{"c":"magenta","e":0.7315,"i":350},{"c":"magenta","e":0.7325,"i":295},{"c":"magenta","e":0.7335,"i":290},{"c":"magenta","e":0.7345,"i":259},{"c":"magenta","e":0.7355,"i":267},{"c":"magenta","e":0.7365,"i":240},{"c":"magenta","e":0.7375,"i":254},{"c":"magenta","e":0.7385,"i":234},{"c":"magenta","e":0.7395,"i":245},{"c":"magenta","e":0.7405,"i":231},{"c":"magenta","e":0.7415,"i":251},{"c":"magenta","e":0.7425,"i":228},{"c":"magenta","e":0.7435,"i":245},
{"c":"orange","e":0.7255,"i":1009},{"c":"orange","e":0.7265,"i":782},{"c":"orange","e":0.7275,"i":541},{"c":"orange","e":0.7285,"i":427},{"c":"orange","e":0.7305,"i":270},{"c":"orange","e":0.7315,"i":267},{"c":"orange","e":0.7325,"i":231},{"c":"orange","e":0.7335,"i":241},{"c":"orange","e":0.7345,"i":216},{"c":"orange","e":0.7355,"i":220},{"c":"orange","e":0.7365,"i":206},{"c":"orange","e":0.7375,"i":217},{"c":"orange","e":0.7385,"i":201},{"c":"orange","e":0.7395,"i":215},{"c":"orange","e":0.7405,"i":203},{"c":"orange","e":0.7415,"i":220},
{"c":"indigo","e":0.7255,"i":813},{"c":"indigo","e":0.7265,"i":543},{"c":"indigo","e":0.7275,"i":437},{"c":"indigo","e":0.7285,"i":319},{"c":"indigo","e":0.7295,"i":286},{"c":"indigo","e":0.7305,"i":231},{"c":"indigo","e":0.7315,"i":229},{"c":"indigo","e":0.7325,"i":198},{"c":"indigo","e":0.7335,"i":204},{"c":"indigo","e":0.7345,"i":179},{"c":"indigo","e":0.7355,"i":183},{"c":"indigo","e":0.7365,"i":161},{"c":"indigo","e":0.7375,"i":167},{"c":"indigo","e":0.7385,"i":151},{"c":"indigo","e":0.7395,"i":164},{"c":"indigo","e":0.7405,"i":161},{"c":"indigo","e":0.7415,"i":181},{"c":"indigo","e":0.7425,"i":174},{"c":"indigo","e":0.7435,"i":189},
{"c":"maroon","e":0.7275,"i":166},{"c":"maroon","e":0.7285,"i":133},{"c":"maroon","e":0.7295,"i":130},{"c":"maroon","e":0.7305,"i":112},{"c":"maroon","e":0.7315,"i":120},{"c":"maroon","e":0.7325,"i":109},{"c":"maroon","e":0.7335,"i":120},{"c":"maroon","e":0.7345,"i":109},{"c":"maroon","e":0.7355,"i":118},{"c":"maroon","e":0.7365,"i":107},{"c":"maroon","e":0.7375,"i":116},{"c":"maroon","e":0.7385,"i":109},{"c":"maroon","e":0.7395,"i":115},{"c":"maroon","e":0.7405,"i":106},{"c":"maroon","e":0.7415,"i":119},{"c":"maroon","e":0.7425,"i":108},{"c":"maroon","e":0.7435,"i":117},
{"c":"turq","e":0.7275,"i":91},{"c":"turq","e":0.7285,"i":99},{"c":"turq","e":0.7295,"i":90},{"c":"turq","e":0.7305,"i":99},{"c":"turq","e":0.7315,"i":91},{"c":"turq","e":0.7325,"i":96},{"c":"turq","e":0.7335,"i":89},{"c":"turq","e":0.7345,"i":94},{"c":"turq","e":0.7355,"i":90},{"c":"turq","e":0.7365,"i":98},{"c":"turq","e":0.7375,"i":92},{"c":"turq","e":0.7385,"i":97},{"c":"turq","e":0.7395,"i":89},{"c":"turq","e":0.7405,"i":96},{"c":"turq","e":0.7415,"i":92},{"c":"turq","e":0.7425,"i":99},{"c":"turq","e":0.7435,"i":93},
{"c":"green","e":0.7275,"i":50},{"c":"green","e":0.7285,"i":42},{"c":"green","e":0.7295,"i":47},{"c":"green","e":0.7315,"i":43},{"c":"green","e":0.7325,"i":51},{"c":"green","e":0.7335,"i":45},{"c":"green","e":0.7345,"i":49},{"c":"green","e":0.7355,"i":41},{"c":"green","e":0.7365,"i":48},{"c":"green","e":0.7375,"i":44},{"c":"green","e":0.7385,"i":50},{"c":"green","e":0.7395,"i":45},{"c":"green","e":0.7405,"i":42},{"c":"green","e":0.7415,"i":50},{"c":"green","e":0.7425,"i":43},{"c":"green","e":0.7435,"i":49},
{"c":"red","e":0.7025,"i":1218},{"c":"red","e":0.7035,"i":1319},{"c":"red","e":0.7045,"i":1600},{"c":"red","e":0.7055,"i":1782},{"c":"red","e":0.7065,"i":2320},{"c":"red","e":0.7075,"i":2730},{"c":"red","e":0.7085,"i":3955},{"c":"red","e":0.7095,"i":5640},
{"c":"blue","e":0.7025,"i":1019},{"c":"blue","e":0.7035,"i":1218},{"c":"blue","e":0.7045,"i":1323},{"c":"blue","e":0.7055,"i":1450},{"c":"blue","e":0.7065,"i":2018},{"c":"blue","e":0.7075,"i":2400},{"c":"blue","e":0.7085,"i":3520},{"c":"blue","e":0.7095,"i":5080},
{"c":"k0","e":0.7025,"i":981},{"c":"k0","e":0.7035,"i":1062},{"c":"k0","e":0.7045,"i":1300},{"c":"k0","e":0.7055,"i":1483},{"c":"k0","e":0.7065,"i":1898},{"c":"k0","e":0.7075,"i":2278},{"c":"k0","e":0.7085,"i":3300},{"c":"k0","e":0.7095,"i":4812},
{"c":"tan","e":0.7025,"i":842},{"c":"tan","e":0.7035,"i":1027},{"c":"tan","e":0.7045,"i":1104},{"c":"tan","e":0.7055,"i":1405},{"c":"tan","e":0.7065,"i":1628},{"c":"tan","e":0.7075,"i":2203},{"c":"tan","e":0.7085,"i":2802},{"c":"tan","e":0.7095,"i":4561},
{"c":"violet","e":0.7025,"i":622},{"c":"violet","e":0.7035,"i":675},{"c":"violet","e":0.7045,"i":846},{"c":"violet","e":0.7055,"i":946},{"c":"violet","e":0.7065,"i":1250},{"c":"violet","e":0.7075,"i":1490},{"c":"violet","e":0.7085,"i":2238},{"c":"violet","e":0.7095,"i":3315},
{"c":"cyan","e":0.7025,"i":465},{"c":"cyan","e":0.7035,"i":573},{"c":"cyan","e":0.7045,"i":633},{"c":"cyan","e":0.7055,"i":806},{"c":"cyan","e":0.7065,"i":933},{"c":"cyan","e":0.7075,"i":1296},{"c":"cyan","e":0.7085,"i":1692},{"c":"cyan","e":0.7095,"i":2825},
{"c":"magenta","e":0.7025,"i":444},{"c":"magenta","e":0.7035,"i":482},{"c":"magenta","e":0.7045,"i":612},{"c":"magenta","e":0.7055,"i":684},{"c":"magenta","e":0.7065,"i":894},{"c":"magenta","e":0.7075,"i":1090},{"c":"magenta","e":0.7095,"i":2614},
{"c":"orange","e":0.7025,"i":317},{"c":"orange","e":0.7035,"i":427},{"c":"orange","e":0.7045,"i":477},{"c":"orange","e":0.7055,"i":620},{"c":"orange","e":0.7065,"i":721},{"c":"orange","e":0.7075,"i":991},{"c":"orange","e":0.7085,"i":1323},{"c":"orange","e":0.7095,"i":2238},
{"c":"indigo","e":0.7025,"i":286},{"c":"indigo","e":0.7035,"i":311},{"c":"indigo","e":0.7045,"i":394},{"c":"indigo","e":0.7055,"i":436},{"c":"indigo","e":0.7065,"i":576},{"c":"indigo","e":0.7075,"i":702},{"c":"indigo","e":0.7085,"i":1058},{"c":"indigo","e":0.7095,"i":1585},
{"c":"maroon","e":0.7025,"i":154},{"c":"maroon","e":0.7035,"i":191},{"c":"maroon","e":0.7045,"i":208},{"c":"maroon","e":0.7055,"i":271},{"c":"maroon","e":0.7065,"i":315},{"c":"maroon","e":0.7075,"i":439},{"c":"maroon","e":0.7085,"i":594},{"c":"maroon","e":0.7095,"i":1004},
{"c":"turq","e":0.7025,"i":119},{"c":"turq","e":0.7035,"i":127},{"c":"turq","e":0.7045,"i":159},{"c":"turq","e":0.7055,"i":180},{"c":"turq","e":0.7065,"i":244},{"c":"turq","e":0.7075,"i":299},{"c":"turq","e":0.7085,"i":450},{"c":"turq","e":0.7095,"i":685},
{"c":"green","e":0.7045,"i":75},{"c":"green","e":0.7055,"i":96},{"c":"green","e":0.7065,"i":111},{"c":"green","e":0.7075,"i":157},{"c":"green","e":0.7085,"i":219},{"c":"green","e":0.7095,"i":390},
{"c":"k2","e":0.72175,"i":37.4},{"c":"k2","e":0.72225,"i":14.4},{"c":"k2","e":0.72275,"i":25.4},{"c":"k2","e":0.72325,"i":15.9},{"c":"k2","e":0.72375,"i":32.9},{"c":"k2","e":0.72425,"i":11.7},{"c":"k2","e":0.72475,"i":22.3},{"c":"k2","e":0.72525,"i":40.4},{"c":"k2","e":0.72575,"i":17.2},{"c":"k2","e":0.72625,"i":26.7},{"c":"k2","e":0.72675,"i":13.0},{"c":"k2","e":0.72725,"i":30.4},{"c":"k2","e":0.72775,"i":19.6},{"c":"k2","e":0.72825,"i":35.5},{"c":"k2","e":0.72875,"i":15.1},{"c":"k2","e":0.72925,"i":24.1},{"c":"k2","e":0.72975,"i":11.4},{"c":"k2","e":0.73025,"i":33.8},{"c":"k2","e":0.73075,"i":21.2},{"c":"k2","e":0.73125,"i":13.6},{"c":"k2","e":0.73175,"i":28.2},{"c":"k2","e":0.73225,"i":16.8},{"c":"k2","e":0.73275,"i":38.4},{"c":"k2","e":0.73325,"i":20.1},{"c":"k2","e":0.73375,"i":12.3},{"c":"k2","e":0.73425,"i":26.0},{"c":"k2","e":0.73475,"i":16.4},{"c":"k2","e":0.73525,"i":32.0},{"c":"k2","e":0.73575,"i":14.0},{"c":"k2","e":0.73625,"i":22.9},{"c":"k2","e":0.73675,"i":36.5},{"c":"k2","e":0.73725,"i":15.5},{"c":"k2","e":0.73775,"i":24.7},{"c":"k2","e":0.73825,"i":11.1},{"c":"k2","e":0.73875,"i":28.9},{"c":"k2","e":0.73925,"i":18.6},{"c":"k2","e":0.73975,"i":34.6},{"c":"k2","e":0.74025,"i":13.3},{"c":"k2","e":0.74075,"i":21.7},{"c":"k2","e":0.74125,"i":41.5},{"c":"k2","e":0.74175,"i":17.7},{"c":"k2","e":0.74225,"i":27.4},{"c":"k2","e":0.74275,"i":12.6},{"c":"k2","e":0.74325,"i":31.2},{"c":"k2","e":0.74375,"i":20.6},
{"c":"k3","e":0.72125,"i":18.6},{"c":"k3","e":0.72175,"i":10},{"c":"k3","e":0.72225,"i":15.9},{"c":"k3","e":0.72275,"i":25.4},{"c":"k3","e":0.72325,"i":11.1},{"c":"k3","e":0.72375,"i":8.3},{"c":"k3","e":0.72425,"i":20.6},{"c":"k3","e":0.72475,"i":13.3},{"c":"k3","e":0.72525,"i":7.3},{"c":"k3","e":0.72575,"i":17.2},{"c":"k3","e":0.72625,"i":23.5},{"c":"k3","e":0.72675,"i":10.5},{"c":"k3","e":0.72725,"i":14.4},{"c":"k3","e":0.72775,"i":6.6},{"c":"k3","e":0.72825,"i":19.6},{"c":"k3","e":0.72875,"i":12.3},{"c":"k3","e":0.72925,"i":26.7},{"c":"k3","e":0.72975,"i":9.0},{"c":"k3","e":0.73025,"i":15.5},{"c":"k3","e":0.73075,"i":11.4},{"c":"k3","e":0.73125,"i":22.3},{"c":"k3","e":0.73175,"i":7.7},{"c":"k3","e":0.73225,"i":14.0},{"c":"k3","e":0.73275,"i":17.7},{"c":"k3","e":0.73325,"i":9.5},{"c":"k3","e":0.73375,"i":24.1},{"c":"k3","e":0.73425,"i":12.0},{"c":"k3","e":0.73475,"i":6.1},{"c":"k3","e":0.73525,"i":16.4},{"c":"k3","e":0.73575,"i":21.7},{"c":"k3","e":0.73625,"i":8.8},{"c":"k3","e":0.73675,"i":13.6},{"c":"k3","e":0.73725,"i":19.1},{"c":"k3","e":0.73775,"i":10.3},{"c":"k3","e":0.73825,"i":7.1},{"c":"k3","e":0.73875,"i":15.1},{"c":"k3","e":0.73925,"i":22.9},{"c":"k3","e":0.73975,"i":10.8},{"c":"k3","e":0.74025,"i":13.0},{"c":"k3","e":0.74075,"i":8.1},{"c":"k3","e":0.74125,"i":18.1},{"c":"k3","e":0.74175,"i":11.7},{"c":"k3","e":0.74225,"i":24.7},{"c":"k3","e":0.74275,"i":9.2},{"c":"k3","e":0.74325,"i":14.7},{"c":"k3","e":0.74375,"i":7.5}
],
"fit":[
{"c":"f1","e":0.7185,"i":30400},{"c":"f1","e":0.724,"i":7300},
{"c":"f2","e":0.7185,"i":27700},{"c":"f2","e":0.724,"i":5900},
{"c":"f3","e":0.7185,"i":24700},{"c":"f3","e":0.724,"i":6050},
{"c":"f4","e":0.7185,"i":22300},{"c":"f4","e":0.7235,"i":5700},
{"c":"f5","e":0.7185,"i":20900},{"c":"f5","e":0.7235,"i":4750},
{"c":"f6","e":0.7185,"i":16800},{"c":"f6","e":0.723,"i":3700},
{"c":"f7","e":0.7185,"i":15000},{"c":"f7","e":0.723,"i":3000},
{"c":"f8","e":0.7185,"i":13400},{"c":"f8","e":0.723,"i":2560},
{"c":"f9","e":0.7185,"i":9900},{"c":"f9","e":0.7225,"i":2380},
{"c":"f10","e":0.718,"i":6500},{"c":"f10","e":0.722,"i":1210},
{"c":"f11","e":0.7178,"i":4700},{"c":"f11","e":0.7212,"i":870},
{"c":"f12","e":0.7176,"i":2150},{"c":"f12","e":0.72,"i":520}
]
},
"layer":[
{
"data":{"name":"pl"},
"mark":{"type":"line","strokeWidth":1,"clip":true},
"encoding":{
"x":{"field":"e","type":"quantitative","scale":{"domain":[0.702,0.744],"nice":false,"zero":false},
"axis":{"orient":"bottom","values":[0.71,0.72,0.73,0.74],"tickSize":-9,"labelPadding":12,"labelFont":"Liberation Serif","labelFontSize":13,"titleFont":"Liberation Serif","titleFontSize":16,"titleFontWeight":"normal","labelExpr":"replace(format(datum.value, '.2f'), '.', ',')","title":"energy (eV)","titlePadding":2}},
"y":{"field":"i","type":"quantitative","scale":{"type":"log","domain":[10,40000],"nice":false},
"axis":{"orient":"left","values":[10,100,1000,10000],"format":"d","tickSize":-9,"labelPadding":13,"labelFont":"Liberation Serif","labelFontSize":13,"titleFont":"Liberation Serif","titleFontSize":16,"titleFontWeight":"normal","title":"intensity (a.u.)","titlePadding":2}},
"color":{"field":"c","type":"nominal","legend":null,
"scale":{"domain":["red","blue","k0","tan","gray","violet","cyan","magenta","orange","indigo","maroon","turq","green","k1","k2","k3","k4"],
"range":["#ff0000","#0000ff","#000000","#bc8f8f","#dcdcdc","#9400d3","#00ffff","#ff00ff","#ffa500","#7221bc","#670748","#40e0d0","#008b00","#000000","#000000","#000000","#000000"]}}
}
},
{
"data":{"name":"fit"},
"mark":{"type":"line","strokeWidth":1,"color":"black","clip":true},
"encoding":{
"x":{"field":"e","type":"quantitative","scale":{"domain":[0.702,0.744],"nice":false,"zero":false},
"axis":{"orient":"bottom","values":[0.705,0.715,0.725,0.735],"tickSize":-4.5,"labels":false,"domain":false,"title":null}},
"y":{"field":"i","type":"quantitative","scale":{"type":"log","domain":[10,40000],"nice":false},
"axis":{"orient":"left","values":[20,30,40,50,60,70,80,90,200,300,400,500,600,700,800,900,2000,3000,4000,5000,6000,7000,8000,9000,20000,30000,40000],"tickSize":-4.5,"labels":false,"domain":false,"title":null}},
"detail":{"field":"c","type":"nominal"}
}
},
{
"data":{"name":"fit"},
"mark":{"type":"line","opacity":0,"clip":true},
"encoding":{
"x":{"field":"e","type":"quantitative","scale":{"domain":[0.702,0.744],"nice":false,"zero":false},
"axis":{"orient":"top","values":[0.71,0.72,0.73,0.74],"tickSize":-9,"labels":false,"title":null}},
"y":{"field":"i","type":"quantitative","scale":{"type":"log","domain":[10,40000],"nice":false},
"axis":{"orient":"right","values":[10,100,1000,10000],"tickSize":-9,"labels":false,"domain":false,"title":null}},
"detail":{"field":"c","type":"nominal"}
}
},
{
"data":{"name":"fit"},
"mark":{"type":"line","opacity":0,"clip":true},
"encoding":{
"x":{"field":"e","type":"quantitative","scale":{"domain":[0.702,0.744],"nice":false,"zero":false},
"axis":{"orient":"top","values":[0.705,0.715,0.725,0.735],"tickSize":-4.5,"labels":false,"domain":false,"title":null}},
"y":{"field":"i","type":"quantitative","scale":{"type":"log","domain":[10,40000],"nice":false},
"axis":{"orient":"right","values":[20,30,40,50,60,70,80,90,200,300,400,500,600,700,800,900,2000,3000,4000,5000,6000,7000,8000,9000,20000,30000,40000],"tickSize":-4.5,"labels":false,"domain":false,"title":null}},
"detail":{"field":"c","type":"nominal"}
}
}
],
"resolve":{"axis":{"x":"independent","y":"independent"}}
}
